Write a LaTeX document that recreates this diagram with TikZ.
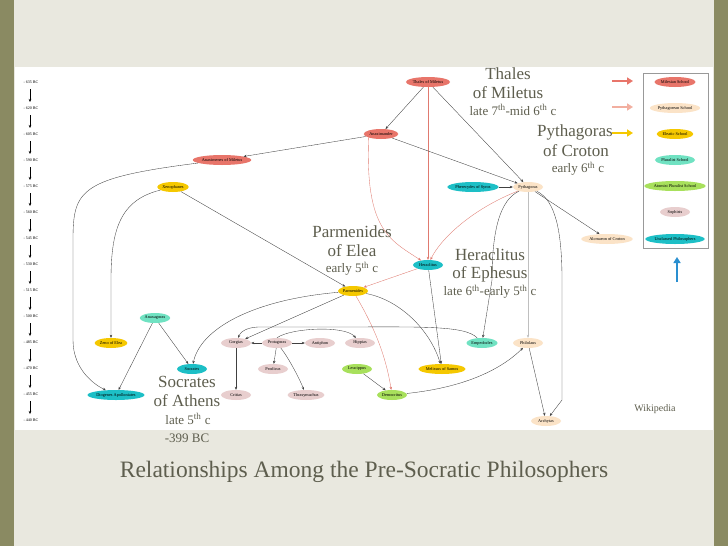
\documentclass[tikz,border=0pt]{standalone}
\usepackage{fontspec}
\setmainfont{Liberation Serif}
\usetikzlibrary{shapes.geometric,arrows.meta}
\definecolor{cRed}{HTML}{E8756A}
\definecolor{cPeach}{HTML}{FBE3C7}
\definecolor{cYel}{HTML}{F5C800}
\definecolor{cCyan}{HTML}{1DBFC6}
\definecolor{cAqua}{HTML}{70E2C2}
\definecolor{cLime}{HTML}{A8E05C}
\definecolor{cPink}{HTML}{E8CECE}
\definecolor{cBg}{HTML}{E9E8DF}
\definecolor{cOlive}{HTML}{8A8A62}
\definecolor{cTxt}{HTML}{5E5E4E}
\definecolor{cSalmon}{HTML}{F2AFA0}
\definecolor{cArrBlue}{HTML}{2A8FD0}
\definecolor{cEdgeRed}{HTML}{E07A70}
\begin{document}
\begin{tikzpicture}[x=1pt,y=-1pt,
  ph/.style={ellipse,inner sep=0.5pt,minimum height=10pt,minimum width=30pt,font=\fontsize{4.3}{4.3}\selectfont},
  red/.style={ph,fill=cRed}, pea/.style={ph,fill=cPeach}, yel/.style={ph,fill=cYel},
  cya/.style={ph,fill=cCyan}, aqu/.style={ph,fill=cAqua}, lim/.style={ph,fill=cLime}, pin/.style={ph,fill=cPink},
  e/.style={-{Stealth[length=3pt,width=2.5pt]},line width=0.35pt,black!75},
  er/.style={e,cEdgeRed},
  eg/.style={e,black!25},
  tl/.style={font=\fontsize{4}{4}\selectfont,anchor=west},
  big/.style={text=cTxt,align=center,inner sep=0pt,font=\fontsize{17}{17}\selectfont},
  sm/.style={text=cTxt,align=center,inner sep=0pt,font=\fontsize{13}{13}\selectfont}]
\useasboundingbox (0,0) rectangle (728,546);
\fill[cBg] (0,0) rectangle (728,546);
\fill[cOlive] (0,0) rectangle (14,546);
\fill[cOlive] (714,0) rectangle (728,546);
\fill[white] (15,67) rectangle (713,430);
% timeline
\foreach \i/\t in {0/635,1/620,2/605,3/590,4/575,5/560,6/545,7/530,8/515,9/500,10/485,11/470,12/455,13/440}{
  \node[tl] (t\i) at (20,{82+26*\i}) {- \t\ BC};}
\foreach \i in {0,...,12}{\draw[e,black] (30,{89+26*\i}) -- (30,{102+26*\i});}
% nodes
\node[red] (thales) at (428,82) {Thales of Miletus};
\node[red] (anaximander) at (381,134) {Anaximander};
\node[red] (anaximenes) at (222,160) {Anaximenes of Miletus};
\node[yel] (xeno) at (173,187) {Xenophanes};
\node[cya] (pherec) at (473,187) {Pherecydes of Syros};
\node[pea] (pyth) at (528,187) {Pythagoras};
\node[pea] (alcm) at (607,239) {Alcmaeon of Croton};
\node[cya] (herac) at (428,265) {Heraclitus};
\node[yel] (parm) at (353,291) {Parmenides};
\node[aqu] (anaxag) at (155,318) {Anaxagoras};
\node[yel] (zeno) at (111,343) {Zeno of Elea};
\node[pin] (gorg) at (236,343) {Gorgias};
\node[pin] (prot) at (277,343) {Protagoras};
\node[pin] (anti) at (320,343) {Antiphon};
\node[pin] (hipp) at (360,343) {Hippias};
\node[aqu] (emp) at (482,343) {Empedocles};
\node[pea] (phil) at (528,343) {Philolaus};
\node[cya] (socr) at (192,369) {Socrates};
\node[pin] (prod) at (273,369) {Prodicus};
\node[lim] (leuc) at (357,369) {Leucippus};
\node[yel] (meli) at (442,369) {Melissus of Samos};
\node[pin] (crit) at (236,395) {Critias};
\node[pin] (thras) at (306,395) {Thrasymachus};
\node[lim] (demo) at (392,395) {Democritus};
\node[cya] (diog) at (116,395) {Diogenes Apolloniates};
\node[pea] (arch) at (546,421) {Archytas};
% edges
\draw[e] (thales) -- (anaximander);
\draw[er] (thales) -- (herac);
\draw[e] (thales) -- (pyth);
\draw[e] (anaximander) -- (anaximenes);
\draw[e] (anaximander) -- (pyth);
\draw[er] (anaximander.south west) .. controls (365,230) and (390,240) .. (herac);
\draw[e] (anaximenes) .. controls (80,178) and (73,190) .. (73,240) -- (73,340) .. controls (73,370) and (95,385) .. (diog);
\draw[e] (xeno) .. controls (120,200) and (111,230) .. (111,280) -- (zeno);
\draw[e] (xeno) -- (parm);
\draw[e] (pherec) -- (pyth);
\draw[e] (pyth) -- (alcm);
\draw[er] (pyth) .. controls (470,210) and (440,240) .. (herac);
\draw[e] (pyth) .. controls (500,200) and (492,230) .. (492,280) -- (emp);
\draw[eg] (pyth) -- (phil);
\draw[e] (pyth) .. controls (555,200) and (562,230) .. (562,280) -- (562,400) -- (arch);
\draw[er] (herac) -- (parm);
\draw[e] (herac) -- (meli);
\draw[e] (parm) .. controls (250,300) and (200,330) .. (socr);
\draw[e] (parm) -- (gorg);
\draw[e] (parm) .. controls (400,300) and (430,330) .. (meli);
\draw[er] (parm) .. controls (370,320) and (385,350) .. (demo);
\draw[e] (anaxag) -- (diog);
\draw[e] (anaxag) -- (socr);
\draw[e] (emp) .. controls (465,325) and (420,327) .. (330,327) -- (260,327) .. controls (245,327) and (240,333) .. (gorg);
\draw[e] (prot) -- (gorg);
\draw[e] (prot) -- (anti);
\draw[e] (prot.north) .. controls (290,328) and (345,325) .. (hipp);
\draw[e] (prot) -- (prod);
\draw[e] (prot) .. controls (290,360) and (300,380) .. (thras);
\draw[e] (gorg) -- (crit);
\draw[e] (leuc) -- (demo);
\draw[e] (demo) .. controls (440,390) and (490,380) .. (phil);
\draw[e] (phil) -- (arch);
% legend
\draw[black!40,line width=0.4pt] (643,73) rectangle (708,248);
\node[red] (l1) at (675,82) {Milesian School};
\node[pea] (l2) at (675,108) {Pythagorean School};
\node[yel] (l3) at (675,134) {Eleatic School};
\node[aqu] (l4) at (675,160) {Pluralist School};
\node[lim,minimum width=56pt] (l5) at (675,186) {Atomist Pluralist School};
\node[pin] (l6) at (675,212) {Sophists};
\node[cya,minimum width=54pt] (l7) at (675,239) {Unclassed Philosophers};
\coordinate (a1s) at (612,81); \coordinate (a1e) at (633,81);
\coordinate (a2s) at (612,107); \coordinate (a2e) at (633,107);
\coordinate (a3s) at (612,133); \coordinate (a3e) at (633,133);
\coordinate (a4s) at (677,282); \coordinate (a4e) at (677,257);
\draw[-{Triangle[length=6pt,width=7pt]},line width=2pt,cRed] (a1s) -- (a1e);
\draw[-{Triangle[length=6pt,width=7pt]},line width=2pt,cSalmon] (a2s) -- (a2e);
% annotations
\node[big] (tA) at (508,74) {Thales};
\node[big] (tB) at (508,93) {of Miletus};
\node[sm] (tC) at (513,110) {late 7\textsuperscript{th}-mid 6\textsuperscript{th} c};
\node[big] (pA) at (575,132) {Pythagoras};
\node[big] (pB) at (576,151) {of Croton};
\node[sm] (pC) at (578,169) {early 6\textsuperscript{th} c};
\draw[-{Triangle[length=6pt,width=7pt]},line width=2pt,cYel] (a3s) -- (a3e);
\draw[-{Triangle[length=6pt,width=7pt]},line width=2pt,cArrBlue] (a4s) -- (a4e);
\node[big] (mA) at (352,232) {Parmenides};
\node[big] (mB) at (352,251) {of Elea};
\node[sm] (mC) at (352,269) {early 5\textsuperscript{th} c};
\node[big] (hA) at (490,255) {Heraclitus};
\node[big] (hB) at (490,274) {of Ephesus};
\node[sm] (hC) at (490,292) {late 6\textsuperscript{th}-early 5\textsuperscript{th} c};
\node[big] (sA) at (187,382) {Socrates};
\node[big] (sB) at (187,401) {of Athens};
\node[sm] (sC) at (188,419) {late 5\textsuperscript{th} c};
\node[sm] (sD) at (187,438) {-399 BC};
\node[text=cTxt,font=\fontsize{10}{10}\selectfont] (wiki) at (655,409) {Wikipedia};
\node[text=cTxt,font=\fontsize{23.5}{23.5}\selectfont] (title) at (364,472) {Relationships Among the Pre-Socratic Philosophers};
\end{tikzpicture}
\end{document}
